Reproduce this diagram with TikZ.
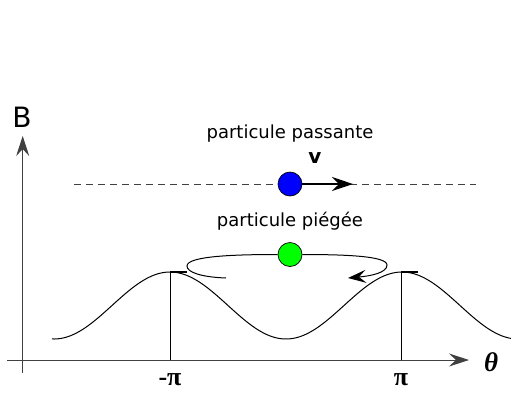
\documentclass[tikz,border=0pt]{standalone}
\usepackage{fontspec}
\setmainfont{DejaVu Sans}
\newfontfamily\serifb{Liberation Serif}
\usetikzlibrary{arrows.meta}
\begin{document}
\begin{tikzpicture}[x=1pt,y=-1pt,
  axis/.style={draw=black!75,line width=0.9pt},
  tip/.style={-{Stealth[length=20pt,width=13pt,inset=7pt]}},
  sans/.style={font=\fontsize{18}{22}\selectfont,inner sep=0pt},
  particle/.style={circle,draw=black,line width=0.7pt,minimum size=24pt,inner sep=0pt},
  traj/.style={draw=black,line width=1pt},
  guide/.style={draw=black,line width=0.6pt},
  peakmark/.style={draw=black,line width=1.2pt}]
\useasboundingbox (0,0) rectangle (511,392);
% axes
\coordinate (xs) at (7,360);
\coordinate (xe) at (469,360);
\coordinate (ys) at (22.7,373);
\coordinate (ye) at (22.7,136);
\draw[axis,tip] (xs) -- (xe);
\draw[axis,tip] (ys) -- (ye);
\node[inner sep=0pt,font=\fontsize{28}{32}\selectfont] (B) at (22,117) {B};
\node[inner sep=0pt,font=\serifb\bfseries\itshape\fontsize{27}{30}\selectfont] (theta) at (491,362) {θ};
\node[inner sep=0pt,font=\serifb\bfseries\fontsize{26}{28}\selectfont] (mpi) at (170,380) {-π};
\node[inner sep=0pt,font=\serifb\bfseries\fontsize{26}{28}\selectfont] (ppi) at (401,380) {π};
% potential curve
\draw[line width=1pt] plot[domain=52:511,samples=200,smooth] (\x,{305.5-33.5*cos(1.55172*(\x-170))});
\coordinate (pl) at (170,272);
\coordinate (pr) at (401,272);
\coordinate (al) at (170,360);
\coordinate (ar) at (401,360);
\draw[guide] (pl) -- (al);
\draw[guide] (pr) -- (ar);
\coordinate (tl) at (187,272);
\coordinate (tr) at (418,272);
\draw[peakmark] (pl) -- (tl);
\draw[peakmark] (pr) -- (tr);
% passing particle
\coordinate (dl) at (74,184);
\coordinate (dr) at (476,184);
\draw[draw=black!75,line width=0.9pt,dash pattern=on 7pt off 5pt] (dl) -- (dr);
\node[sans] (lpass) at (290,134) {particule passante};
\node[particle,fill=blue] (blue) at (290,184) {};
\coordinate (vend) at (353,184);
\draw[line width=1.4pt,-{Stealth[length=21pt,width=14pt,inset=7pt]}] (blue.east) -- (vend);
\node[inner sep=0pt,font=\bfseries\fontsize{20}{22}\selectfont] (v) at (315,158) {v};
% trapped particle
\node[sans] (ltrap) at (290,221) {particule piégée};
\node[particle,fill=green] (green) at (290,254.5) {};
\coordinate (ls) at (226,278);
\coordinate (lx) at (187,266);
\coordinate (rx) at (387,265);
\coordinate (re) at (348,278);
\draw[traj] (ls) .. controls (200,277) and (187,272) .. (lx) .. controls (187,256) and (235,254.5) .. (green.west);
\draw[traj,-{Stealth[length=18pt,width=13pt,inset=7pt]}] (green.east) .. controls (345,254.5) and (387,256) .. (rx) .. controls (387,273) and (370,276) .. (re);
\end{tikzpicture}
\end{document}
